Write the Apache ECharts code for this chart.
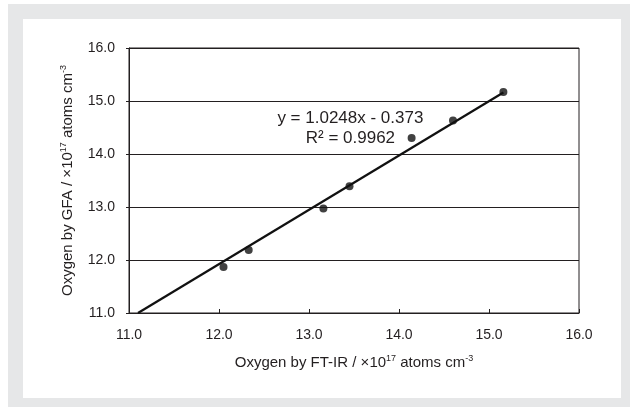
<!DOCTYPE html>
<html>
<head>
<meta charset="utf-8">
<script src="https://cdn.jsdelivr.net/npm/echarts@6/dist/echarts.min.js"></script>
<style>
html,body{margin:0;padding:0;background:#ffffff;}
#chart{width:630px;height:407px;}
</style>
</head>
<body>
<div id="chart"></div>
<script>
// Measured points: Oxygen by FT-IR (x) vs Oxygen by GFA (y), ×10^17 atoms cm^-3
const ftirValues = [12.05, 12.33, 13.16, 13.45, 14.14, 14.60, 15.16];
const gfaValues  = [11.87, 12.19, 12.97, 13.39, 14.30, 14.63, 15.17];
// Linear trendline endpoints (as drawn in the reference)
const trendX = [11.10, 15.16];
const trendY = [11.00, 15.16];
const equationText = 'y = 1.0248x - 0.373';
const r2Text = 'R² = 0.9962';
const axisMin = 11, axisMax = 16, axisStep = 1;

const ink = '#231f20';
const font = '"Liberation Sans", Arial, sans-serif';

const points = ftirValues.map((x, i) => [x, gfaValues[i]]);
const trend = trendX.map((x, i) => [x, trendY[i]]);

const titleRich = {
  a: {fontFamily: font, fontSize: 15, color: ink, lineHeight: 18},
  s: {fontFamily: font, fontSize: 9, color: ink, verticalAlign: 'top', lineHeight: 18}
};

const chart = echarts.init(document.getElementById('chart'), null, {renderer: 'canvas'});
chart.setOption({
  animation: false,
  backgroundColor: '#ffffff',
  textStyle: {fontFamily: font, color: ink},
  graphic: [
    {type: 'rect', z: -10, shape: {x: 8, y: 4, width: 622, height: 403}, style: {fill: '#e6e7e8'}},
    {type: 'rect', z: -9, shape: {x: 23, y: 19, width: 598, height: 379}, style: {fill: '#ffffff'}}
  ],
  grid: {
    left: 129, right: 51, top: 48, bottom: 94,
    show: true, borderColor: ink, borderWidth: 1, backgroundColor: 'transparent'
  },
  xAxis: {
    type: 'value', min: axisMin, max: axisMax, interval: axisStep,
    name: '{a|Oxygen by FT-IR / ×10}{s|17}{a| atoms cm}{s|-3}',
    nameLocation: 'middle', nameGap: 41,
    nameTextStyle: {rich: titleRich},
    axisLine: {show: true, lineStyle: {color: ink, width: 1}},
    axisTick: {show: true, inside: true, length: 4, lineStyle: {color: ink}},
    axisLabel: {fontFamily: font, fontSize: 14, color: ink, margin: 15, formatter: v => v.toFixed(1)},
    splitLine: {show: false}
  },
  yAxis: {
    type: 'value', min: axisMin, max: axisMax, interval: axisStep,
    name: '{a|Oxygen by GFA / ×10}{s|17}{a| atoms cm}{s|-3}',
    nameLocation: 'middle', nameGap: 52, nameRotate: 90,
    nameTextStyle: {rich: titleRich},
    axisLine: {show: true, lineStyle: {color: ink, width: 1}},
    axisTick: {show: true, inside: false, length: 3, lineStyle: {color: ink}},
    axisLabel: {fontFamily: font, fontSize: 14, color: ink, margin: 14, formatter: v => v.toFixed(1)},
    splitLine: {show: true, lineStyle: {color: ink, width: 1}}
  },
  series: [
    {
      type: 'line', data: trend, showSymbol: false, symbol: 'none',
      lineStyle: {color: '#111', width: 2.2}, z: 3,
      markPoint: {
        symbol: 'rect', symbolSize: 0, silent: true,
        data: [
          {coord: [13.46, 14.68], label: {show: true, formatter: equationText, fontFamily: font, fontSize: 17, color: ink, position: 'inside'}},
          {coord: [13.46, 14.30], label: {show: true, formatter: r2Text, fontFamily: font, fontSize: 17, color: ink, position: 'inside'}}
        ]
      }
    },
    {
      type: 'scatter', data: points, symbol: 'circle', symbolSize: 8,
      itemStyle: {color: '#111'}, z: 4
    }
  ]
});
</script>
</body>
</html>
